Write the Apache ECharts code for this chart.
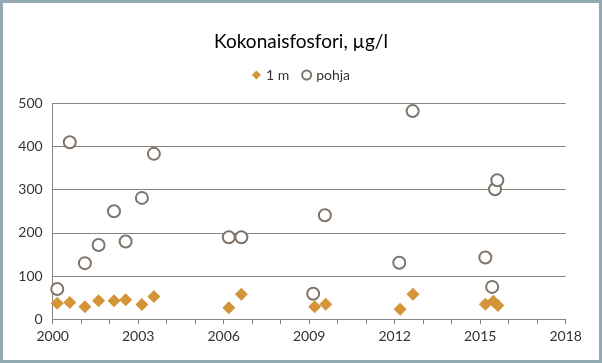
<!DOCTYPE html>
<html><head><meta charset="utf-8">
<script src="https://cdn.jsdelivr.net/npm/echarts@6/dist/echarts.min.js"></script>
<style>
html,body{margin:0;padding:0;background:#93aab3;width:602px;height:363px;overflow:hidden}
#c{position:absolute;left:3px;top:3px;width:596px;height:357px;background:#fff}
</style></head><body>
<div id="c"></div>
<script>
const title = 'Kokonaisfosfori, µg/l';
const seriesNames = ['1 m', 'pohja'];
const xTickLabels = [2000, 2003, 2006, 2009, 2012, 2015, 2018];
const yTickLabels = [0, 100, 200, 300, 400, 500];
const years1m = [2000.16, 2000.6, 2001.13, 2001.61, 2002.15, 2002.56, 2003.13, 2003.55, 2006.18, 2006.62, 2009.19, 2009.58, 2012.19, 2012.64, 2015.18, 2015.46, 2015.62];
const values1m = [37, 39, 29, 43, 43, 45, 34, 53, 27, 58, 29, 35, 23, 58, 35, 42, 32];
const yearsPohja = [2000.16, 2000.6, 2001.13, 2001.61, 2002.15, 2002.56, 2003.13, 2003.55, 2006.18, 2006.62, 2009.14, 2009.55, 2012.16, 2012.63, 2015.18, 2015.42, 2015.52, 2015.6];
const valuesPohja = [70, 410, 130, 172, 250, 180, 281, 383, 190, 190, 59, 241, 131, 482, 143, 75, 301, 322];

const font = 'Lato, "Open Sans", sans-serif';
const chart = echarts.init(document.getElementById('c'));
chart.setOption({
  animation: false,
  title: {text: title, left: 'center', top: 24, textStyle: {fontFamily: font, fontSize: 19, fontWeight: 'normal', color: '#000'}},
  legend: {top: 60, left: 'center', itemGap: 12, itemWidth: 9, itemHeight: 9,
    textStyle: {fontFamily: font, fontSize: 14, color: '#333'},
    data: [{name: seriesNames[0], icon: 'diamond'}, {name: seriesNames[1], icon: 'circle'}]},
  grid: {left: 49.7, right: 33.3, top: 100.3, bottom: 40.7},
  xAxis: {type: 'value', min: 2000, max: 2018, interval: 1,
    axisLine: {lineStyle: {color: '#868686'}},
    axisTick: {show: true, length: 5, lineStyle: {color: '#868686'}},
    splitLine: {show: false},
    axisLabel: {fontFamily: font, fontSize: 14, color: '#333', margin: 10,
      formatter: v => xTickLabels.includes(v) ? String(v) : ''}},
  yAxis: {type: 'value', min: 0, max: 500, interval: 100,
    axisLine: {show: true, lineStyle: {color: '#868686'}},
    axisTick: {show: false},
    splitLine: {lineStyle: {color: '#868686'}},
    axisLabel: {fontFamily: font, fontSize: 14, color: '#333', margin: 10,
      formatter: v => yTickLabels.includes(v) ? String(v) : ''}},
  series: [
    {name: seriesNames[0], type: 'scatter', symbol: 'diamond', symbolSize: 13,
      itemStyle: {color: '#d4943a', opacity: 1},
      data: years1m.map((y, i) => [y, values1m[i]])},
    {name: seriesNames[1], type: 'scatter', symbol: 'circle', symbolSize: 12,
      itemStyle: {color: '#fff', borderColor: '#7f746a', borderWidth: 2, opacity: 1},
      data: yearsPohja.map((y, i) => [y, valuesPohja[i]])}
  ]
});
</script></body></html>
